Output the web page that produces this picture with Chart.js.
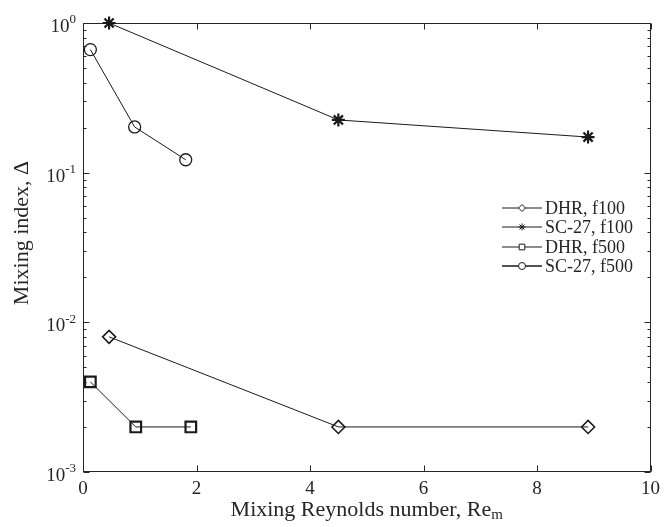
<!DOCTYPE html>
<html>
<head>
<meta charset="utf-8">
<script src="https://cdn.jsdelivr.net/npm/chart.js@4.4.0/dist/chart.umd.min.js"></script>
<style>
  html, body { margin: 0; padding: 0; background: #fff; }
</style>
</head>
<body>
<canvas id="myChart" width="666" height="527"></canvas>
<script>
let serif = '"Liberation Serif", "Times New Roman", serif';
let ink = '#262626';

// Mixing Reynolds number (x) and mixing index (y) per case
let dhrF100X = [0.46, 4.5, 8.9];
let dhrF100Y = [0.008, 0.002, 0.002];
let scF100X = [0.46, 4.5, 8.9];
let scF100Y = [1.0, 0.225, 0.173];
let dhrF500X = [0.13, 0.93, 1.9];
let dhrF500Y = [0.004, 0.002, 0.002];
let scF500X = [0.13, 0.91, 1.81];
let scF500Y = [0.664, 0.202, 0.122];

let seriesNames = ['DHR, f100', 'SC-27, f100', 'DHR, f500', 'SC-27, f500'];
let xTicks = [0, 2, 4, 6, 8, 10];
let yDecades = [0.001, 0.01, 0.1, 1];
let yExps = ['-3', '-2', '-1', '0'];

function pts(xs, ys) {
    return xs.map((x, i) => ({x: x, y: ys[i]}));
}

function series(label, xs, ys, style, radius, width) {
    return {
        label: label,
        data: pts(xs, ys),
        showLine: true,
        borderColor: '#1a1a1a',
        borderWidth: 1,
        pointStyle: style,
        pointRadius: radius,
        pointHoverRadius: radius,
        pointBorderWidth: width,
        pointBorderColor: '#1a1a1a',
        pointBackgroundColor: 'rgba(0,0,0,0)',
        clip: false
    };
}

function seg(ctx, x1, y1, x2, y2) {
    ctx.beginPath();
    ctx.moveTo(x1, y1);
    ctx.lineTo(x2, y2);
    ctx.stroke();
}

// box, inward ticks, tick labels, titles and legend
let frame = {
    id: 'frame',
    beforeDatasetsDraw(chart) {
        let {ctx, chartArea: a, scales: {x, y}} = chart;
        ctx.save();
        ctx.strokeStyle = ink;
        ctx.lineWidth = 1;
        let L = a.left + 0.5, R = Math.round(a.right) - 0.5;
        let T = Math.round(a.top) + 0.5, B = Math.round(a.bottom) - 0.5;
        ctx.strokeRect(L, T, R - L, B - T);
        xTicks.forEach(v => {
            let px = Math.round(x.getPixelForValue(v)) + 0.5;
            seg(ctx, px, B, px, B - 6);
            seg(ctx, px, T, px, T + 6);
        });
        yDecades.forEach(d => {
            let py = Math.round(y.getPixelForValue(d)) + 0.5;
            seg(ctx, L, py, L + 6, py);
            seg(ctx, R, py, R - 6, py);
            if (d < 1) {
                for (let k = 2; k <= 9; k++) {
                    let my = Math.round(y.getPixelForValue(k * d)) + 0.5;
                    seg(ctx, L, my, L + 3, my);
                    seg(ctx, R, my, R - 3, my);
                }
            }
        });
        ctx.restore();
    },
    afterDraw(chart) {
        let {ctx, chartArea: a, scales: {y}} = chart;
        ctx.save();
        ctx.fillStyle = ink;

        // y tick labels 10^n
        yDecades.forEach((d, i) => {
            let py = y.getPixelForValue(d);
            ctx.font = '13px ' + serif;
            let supW = ctx.measureText(yExps[i]).width;
            let right = a.left - 7;
            ctx.textAlign = 'left';
            ctx.textBaseline = 'middle';
            ctx.fillText(yExps[i], right - supW, py - 3);
            ctx.font = '19px ' + serif;
            ctx.textAlign = 'right';
            ctx.fillText('10', right - supW, py + 4);
        });

        // x title with subscript
        let cx = (a.left + a.right) / 2;
        ctx.font = '22px ' + serif;
        let main = 'Mixing Reynolds number, Re';
        let mainW = ctx.measureText(main).width;
        ctx.font = '15px ' + serif;
        let subW = ctx.measureText('m').width;
        let sx = cx - (mainW + subW) / 2;
        ctx.textAlign = 'left';
        ctx.textBaseline = 'alphabetic';
        ctx.font = '22px ' + serif;
        ctx.fillText(main, sx, 516);
        ctx.font = '15px ' + serif;
        ctx.fillText('m', sx + mainW, 519);

        // y title
        ctx.save();
        ctx.translate(22, 233);
        ctx.rotate(-Math.PI / 2);
        ctx.font = '22px ' + serif;
        ctx.textAlign = 'center';
        ctx.textBaseline = 'middle';
        ctx.fillText('Mixing index, \u0394', 0, 0);
        ctx.restore();

        // legend: short line, open marker, name
        let rows = [208, 227, 247, 266];
        let styles = [['rectRot', 3.5], ['star', 3.5], ['rect', 4], ['circle', 3.5]];
        ctx.font = '18px ' + serif;
        ctx.textAlign = 'left';
        ctx.textBaseline = 'middle';
        rows.forEach((ry, i) => {
            ctx.strokeStyle = '#1a1a1a';
            ctx.lineWidth = i === 3 ? 1.5 : 1;
            seg(ctx, 502, ry, 542, ry);
            ctx.lineWidth = 1;
            ctx.fillStyle = '#fff';
            Chart.helpers.drawPoint(ctx, {
                pointStyle: styles[i][0],
                radius: styles[i][1],
                rotation: 0,
                borderWidth: 1
            }, 522, ry);
            ctx.fillStyle = ink;
            ctx.fillText(seriesNames[i], 545, ry + 1);
        });
        ctx.restore();
    }
};

let ctx = document.getElementById('myChart').getContext('2d');

let chart = new Chart(ctx, {
    type: 'scatter',
    data: {
        datasets: [
            series(seriesNames[0], dhrF100X, dhrF100Y, 'rectRot', 6.5, 1.6),
            series(seriesNames[1], scF100X, scF100Y, 'star', 6.5, 2.2),
            series(seriesNames[2], dhrF500X, dhrF500Y, 'rect', 7.5, 2.2),
            series(seriesNames[3], scF500X, scF500Y, 'circle', 6, 1.3)
        ]
    },
    options: {
        responsive: false,
        animation: false,
        devicePixelRatio: 1,
        layout: {padding: {top: 23, right: 13, left: 0, bottom: 0}},
        plugins: {
            legend: {display: false},
            tooltip: {enabled: false}
        },
        scales: {
            x: {
                type: 'linear',
                min: 0,
                max: 10,
                ticks: {
                    stepSize: 2,
                    padding: 6,
                    color: ink,
                    font: {family: serif, size: 19}
                },
                grid: {display: false, drawTicks: false},
                border: {display: false},
                afterFit(s) { s.height = 55; }
            },
            y: {
                type: 'logarithmic',
                min: 0.001,
                max: 1,
                ticks: {display: false},
                grid: {display: false, drawTicks: false},
                border: {display: false},
                afterFit(s) { s.width = 83; }
            }
        }
    },
    plugins: [frame]
});
</script>
</body>
</html>
